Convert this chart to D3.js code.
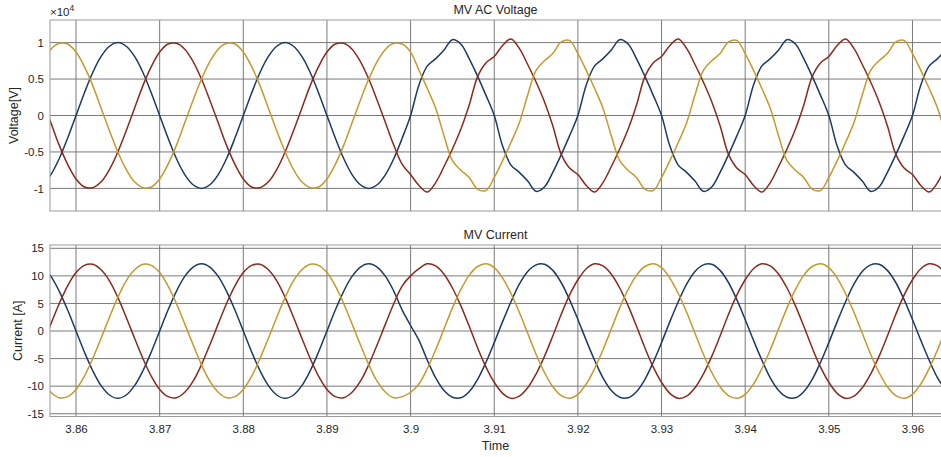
<!DOCTYPE html>
<html>
<head>
<meta charset="utf-8">
<script src="https://cdn.jsdelivr.net/npm/d3@7"></script>
<style>
  body { margin: 0; background: #fff; }
  text { font-family: "Liberation Sans", Arial, sans-serif; fill: #262626; }
</style>
</head>
<body>
<div id="viz"></div>
<script>
//DATA: sampled every 1 ms, read off the scope picture
//time axis (s)
const timeSec = [
  3.856, 3.857, 3.858, 3.859, 3.860, 3.861, 3.862, 3.863, 3.864, 3.865, 3.866, 3.867, 3.868, 3.869, 3.870, 3.871, 3.872, 3.873, 3.874, 3.875,
  3.876, 3.877, 3.878, 3.879, 3.880, 3.881, 3.882, 3.883, 3.884, 3.885, 3.886, 3.887, 3.888, 3.889, 3.890, 3.891, 3.892, 3.893, 3.894, 3.895,
  3.896, 3.897, 3.898, 3.899, 3.900, 3.901, 3.902, 3.903, 3.904, 3.905, 3.906, 3.907, 3.908, 3.909, 3.910, 3.911, 3.912, 3.913, 3.914, 3.915,
  3.916, 3.917, 3.918, 3.919, 3.920, 3.921, 3.922, 3.923, 3.924, 3.925, 3.926, 3.927, 3.928, 3.929, 3.930, 3.931, 3.932, 3.933, 3.934, 3.935,
  3.936, 3.937, 3.938, 3.939, 3.940, 3.941, 3.942, 3.943, 3.944, 3.945, 3.946, 3.947, 3.948, 3.949, 3.950, 3.951, 3.952, 3.953, 3.954, 3.955,
  3.956, 3.957, 3.958, 3.959, 3.960, 3.961, 3.962, 3.963, 3.964
];

//MV AC voltage, 3 phases, in units of 10^4 V
const voltBlue = [
  -0.95, -0.81, -0.59, -0.31, 0, 0.31, 0.59, 0.81, 0.95, 1, 0.95, 0.81, 0.59, 0.31, 0, -0.31, -0.59, -0.81, -0.95, -1,
  -0.95, -0.81, -0.59, -0.31, 0, 0.31, 0.59, 0.81, 0.95, 1, 0.95, 0.81, 0.59, 0.31, 0, -0.31, -0.59, -0.81, -0.95, -1,
  -0.95, -0.81, -0.59, -0.31, 0, 0.42, 0.68, 0.78, 0.90, 1.04, 0.98, 0.78, 0.54, 0.28, 0, -0.42, -0.68, -0.78, -0.90, -1.04,
  -0.98, -0.78, -0.54, -0.28, 0, 0.42, 0.68, 0.78, 0.90, 1.04, 0.98, 0.78, 0.54, 0.28, 0, -0.42, -0.68, -0.78, -0.90, -1.04,
  -0.98, -0.78, -0.54, -0.28, 0, 0.42, 0.68, 0.78, 0.90, 1.04, 0.98, 0.78, 0.54, 0.28, 0, -0.42, -0.68, -0.78, -0.90, -1.04,
  -0.98, -0.78, -0.54, -0.28, 0, 0.42, 0.68, 0.78, 0.90
];
const voltRed = [
  0.21, -0.10, -0.41, -0.67, -0.87, -0.98, -0.99, -0.91, -0.74, -0.50, -0.21, 0.10, 0.41, 0.67, 0.87, 0.98, 0.99, 0.91, 0.74, 0.50,
  0.21, -0.10, -0.41, -0.67, -0.87, -0.98, -0.99, -0.91, -0.74, -0.50, -0.21, 0.10, 0.41, 0.67, 0.87, 0.98, 0.99, 0.91, 0.74, 0.50,
  0.21, -0.10, -0.41, -0.67, -0.81, -0.96, -1.05, -0.92, -0.70, -0.46, -0.19, 0.14, 0.53, 0.72, 0.81, 0.96, 1.05, 0.92, 0.70, 0.46,
  0.19, -0.14, -0.53, -0.72, -0.81, -0.96, -1.05, -0.92, -0.70, -0.46, -0.19, 0.14, 0.53, 0.72, 0.81, 0.96, 1.05, 0.92, 0.70, 0.46,
  0.19, -0.14, -0.53, -0.72, -0.81, -0.96, -1.05, -0.92, -0.70, -0.46, -0.19, 0.14, 0.53, 0.72, 0.81, 0.96, 1.05, 0.92, 0.70, 0.46,
  0.19, -0.14, -0.53, -0.72, -0.81, -0.96, -1.05, -0.92, -0.70
];
const voltYellow = [
  0.74, 0.91, 0.99, 0.98, 0.87, 0.67, 0.41, 0.10, -0.21, -0.50, -0.74, -0.91, -0.99, -0.98, -0.87, -0.67, -0.41, -0.10, 0.21, 0.50,
  0.74, 0.91, 0.99, 0.98, 0.87, 0.67, 0.41, 0.10, -0.21, -0.50, -0.74, -0.91, -0.99, -0.98, -0.87, -0.67, -0.41, -0.10, 0.21, 0.50,
  0.74, 0.91, 0.99, 0.98, 0.87, 0.62, 0.37, 0.10, -0.28, -0.62, -0.75, -0.85, -1.01, -1.03, -0.85, -0.62, -0.37, -0.10, 0.28, 0.62,
  0.75, 0.85, 1.01, 1.03, 0.85, 0.62, 0.37, 0.10, -0.28, -0.62, -0.75, -0.85, -1.01, -1.03, -0.85, -0.62, -0.37, -0.10, 0.28, 0.62,
  0.75, 0.85, 1.01, 1.03, 0.85, 0.62, 0.37, 0.10, -0.28, -0.62, -0.75, -0.85, -1.01, -1.03, -0.85, -0.62, -0.37, -0.10, 0.28, 0.62,
  0.75, 0.85, 1.01, 1.03, 0.85, 0.62, 0.37, 0.10, -0.28
];

//MV current, 3 phases (A)
const curBlue = [
  11.6, 9.9, 7.2, 3.8, 0, -3.8, -7.2, -9.9, -11.6, -12.2, -11.6, -9.9, -7.2, -3.8, 0, 3.8, 7.2, 9.9, 11.6, 12.2,
  11.6, 9.9, 7.2, 3.8, 0, -3.8, -7.2, -9.9, -11.6, -12.2, -11.6, -9.9, -7.2, -3.8, 0, 3.8, 7.2, 9.9, 11.6, 12.2,
  11.6, 9.9, 7.2, 3.8, 1.0, -1.7, -5.3, -8.5, -10.8, -12.0, -12.1, -11.0, -8.8, -5.7, -2.1, 1.7, 5.3, 8.5, 10.8, 12.0,
  12.1, 11.0, 8.8, 5.7, 2.1, -1.7, -5.3, -8.5, -10.8, -12.0, -12.1, -11.0, -8.8, -5.7, -2.1, 1.7, 5.3, 8.5, 10.8, 12.0,
  12.1, 11.0, 8.8, 5.7, 2.1, -1.7, -5.3, -8.5, -10.8, -12.0, -12.1, -11.0, -8.8, -5.7, -2.1, 1.7, 5.3, 8.5, 10.8, 12.0,
  12.1, 11.0, 8.8, 5.7, 2.1, -1.7, -5.3, -8.5, -10.8
];
const curRed = [
  -2.5, 1.3, 5.0, 8.2, 10.6, 11.9, 12.1, 11.1, 9.1, 6.1, 2.5, -1.3, -5.0, -8.2, -10.6, -11.9, -12.1, -11.1, -9.1, -6.1,
  -2.5, 1.3, 5.0, 8.2, 10.6, 11.9, 12.1, 11.1, 9.1, 6.1, 2.5, -1.3, -5.0, -8.2, -10.6, -11.9, -12.1, -11.1, -9.1, -6.1,
  -2.5, 1.3, 5.0, 8.2, 10.0, 11.3, 12.2, 11.8, 10.3, 7.8, 4.6, 0.9, -3.0, -6.5, -9.3, -11.3, -12.2, -11.8, -10.3, -7.8,
  -4.6, -0.9, 3.0, 6.5, 9.3, 11.3, 12.2, 11.8, 10.3, 7.8, 4.6, 0.9, -3.0, -6.5, -9.3, -11.3, -12.2, -11.8, -10.3, -7.8,
  -4.6, -0.9, 3.0, 6.5, 9.3, 11.3, 12.2, 11.8, 10.3, 7.8, 4.6, 0.9, -3.0, -6.5, -9.3, -11.3, -12.2, -11.8, -10.3, -7.8,
  -4.6, -0.9, 3.0, 6.5, 9.3, 11.3, 12.2, 11.8, 10.3
];
const curYellow = [
  -9.1, -11.1, -12.1, -11.9, -10.6, -8.2, -5.0, -1.3, 2.5, 6.1, 9.1, 11.1, 12.1, 11.9, 10.6, 8.2, 5.0, 1.3, -2.5, -6.1,
  -9.1, -11.1, -12.1, -11.9, -10.6, -8.2, -5.0, -1.3, 2.5, 6.1, 9.1, 11.1, 12.1, 11.9, 10.6, 8.2, 5.0, 1.3, -2.5, -6.1,
  -9.1, -11.1, -12.1, -11.9, -11.1, -9.6, -6.8, -3.4, 0.4, 4.2, 7.5, 10.1, 11.7, 12.2, 11.5, 9.6, 6.8, 3.4, -0.4, -4.2,
  -7.5, -10.1, -11.7, -12.2, -11.5, -9.6, -6.8, -3.4, 0.4, 4.2, 7.5, 10.1, 11.7, 12.2, 11.5, 9.6, 6.8, 3.4, -0.4, -4.2,
  -7.5, -10.1, -11.7, -12.2, -11.5, -9.6, -6.8, -3.4, 0.4, 4.2, 7.5, 10.1, 11.7, 12.2, 11.5, 9.6, 6.8, 3.4, -0.4, -4.2,
  -7.5, -10.1, -11.7, -12.2, -11.5, -9.6, -6.8, -3.4, 0.4
];

//ticks
const timeTicks = [3.86, 3.87, 3.88, 3.89, 3.90, 3.91, 3.92, 3.93, 3.94, 3.95, 3.96];
const timeTickLabels = ["3.86", "3.87", "3.88", "3.89", "3.9", "3.91", "3.92", "3.93", "3.94", "3.95", "3.96"];
const voltTicks = [-1, -0.5, 0, 0.5, 1];
const voltTickLabels = ["-1", "-0.5", "0", "0.5", "1"];
const curTicks = [-15, -10, -5, 0, 5, 10, 15];
const curTickLabels = ["-15", "-10", "-5", "0", "5", "10", "15"];

const phaseColors = ["#1c3a64", "#8a2a1d", "#c49a2c"];

//CANVAS
const W = 941, H = 457;
const svg = d3.select("#viz").append("svg")
  .attr("width", W)
  .attr("height", H);

const left = 50, right = 943;

//shared x scale
const x = d3.scaleLinear().domain([3.85689, 3.96365]).range([left, right]);

//draws one panel: box, grid, ticks, three traces
function drawPanel(id, top, bottom, yDomain, yTicks, yLabels, series, title, yTitle, yTitleX, showX) {
  const y = d3.scaleLinear().domain(yDomain).range([bottom, top]);
  const g = svg.append("g");

  g.append("clipPath").attr("id", "clip" + id)
    .append("rect")
    .attr("x", left).attr("y", top)
    .attr("width", right - left).attr("height", bottom - top);

  //grid lines
  g.selectAll("line.vgrid").data(timeTicks).enter().append("line")
    .attr("x1", d => x(d)).attr("x2", d => x(d))
    .attr("y1", top).attr("y2", bottom)
    .attr("stroke", "#7a7a7a").attr("stroke-width", 1);
  g.selectAll("line.hgrid").data(yTicks).enter().append("line")
    .attr("x1", left).attr("x2", right)
    .attr("y1", d => y(d)).attr("y2", d => y(d))
    .attr("stroke", "#7a7a7a").attr("stroke-width", 1);

  //traces
  const line = d3.line()
    .x((d, i) => x(timeSec[i]))
    .y(d => y(d))
    .curve(d3.curveCatmullRom.alpha(0.5));
  series.forEach((s, i) => {
    g.append("path")
      .attr("d", line(s))
      .attr("clip-path", "url(#clip" + id + ")")
      .attr("fill", "none")
      .attr("stroke", phaseColors[i])
      .attr("stroke-width", 1.5);
  });

  //box
  g.append("rect")
    .attr("x", left).attr("y", top)
    .attr("width", right - left).attr("height", bottom - top)
    .attr("fill", "none").attr("stroke", "#9a9a9a").attr("stroke-width", 1);

  //y axis (tick labels only, grid acts as ticks)
  const yAxis = d3.axisLeft(y).tickValues(yTicks)
    .tickFormat((d, i) => yLabels[i]).tickSize(0).tickPadding(6);
  const ya = g.append("g").attr("transform", `translate(${left},0)`).call(yAxis);
  ya.select(".domain").remove();
  ya.selectAll("text").style("font-size", "11.5px").attr("fill", "#262626")
    .style("font-family", "'Liberation Sans', Arial, sans-serif");

  if (showX) {
    const xAxis = d3.axisBottom(x).tickValues(timeTicks)
      .tickFormat((d, i) => timeTickLabels[i]).tickSize(0).tickPadding(8);
    const xa = g.append("g").attr("transform", `translate(0,${bottom})`).call(xAxis);
    xa.select(".domain").remove();
    xa.selectAll("text").style("font-size", "11.5px").attr("fill", "#262626")
      .style("font-family", "'Liberation Sans', Arial, sans-serif");
  }

  //title
  g.append("text")
    .attr("x", (left + right) / 2 - 1)
    .attr("y", top - 6)
    .attr("text-anchor", "middle")
    .style("font-size", "12.5px")
    .text(title);

  //y title
  g.append("text")
    .attr("transform", `translate(${yTitleX},${(top + bottom) / 2}) rotate(-90)`)
    .attr("text-anchor", "middle")
    .style("font-size", "12.5px")
    .text(yTitle);

  return y;
}

//TOP: voltage
drawPanel("V", 20, 211, [-1.31, 1.31], voltTicks, voltTickLabels,
  [voltBlue, voltRed, voltYellow], "MV AC Voltage", "Voltage[V]", 18, false);

//exponent label
const expo = svg.append("text")
  .attr("x", 50).attr("y", 16)
  .style("font-size", "11.5px");
expo.append("tspan").text("\u00d710");
expo.append("tspan").attr("dy", -5).style("font-size", "8.5px").text("4");

//BOTTOM: current
drawPanel("I", 245, 416.5, [-15.5, 15.6], curTicks, curTickLabels,
  [curBlue, curRed, curYellow], "MV Current", "Current [A]", 22, true);

//x title
svg.append("text")
  .attr("x", (left + right) / 2 - 1)
  .attr("y", 450)
  .attr("text-anchor", "middle")
  .style("font-size", "12.5px")
  .text("Time");
</script>
</body>
</html>
